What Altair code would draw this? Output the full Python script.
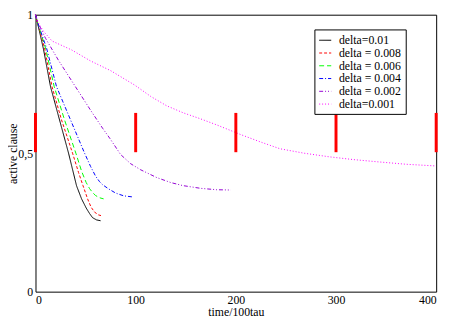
import altair as alt
import pandas as pd

series_names = ["delta=0.01", "delta = 0.008", "delta = 0.006",
                "delta = 0.004", "delta = 0.002", "delta=0.001"]
series_colors = ["#000000", "#ff0000", "#00ff00", "#0000ff", "#9400d3", "#ff00ff"]
series_dash = [[1, 0], [3, 2], [5, 3], [4, 2, 1, 2], [4, 2, 1, 2, 1, 2], [1, 2]]

x_d010 = [0, 3, 8, 15, 24, 33, 41, 46, 50.6, 54, 57, 61, 65]
y_d010 = [1, 0.955, 0.875, 0.74, 0.62, 0.5, 0.382, 0.335, 0.302, 0.282, 0.267, 0.259, 0.256]

x_d008 = [0, 3, 9, 16.5, 26, 37, 43, 47.4, 52, 55.5, 59, 63, 67]
y_d008 = [1, 0.958, 0.88, 0.74, 0.62, 0.5, 0.43, 0.383, 0.335, 0.305, 0.287, 0.277, 0.273]

x_d006 = [0, 3, 10, 18.7, 29, 40.3, 46, 50.6, 54, 57, 60, 64, 68]
y_d006 = [1, 0.96, 0.88, 0.74, 0.62, 0.5, 0.435, 0.394, 0.372, 0.358, 0.347, 0.339, 0.335]

x_d004 = [0, 3, 11, 21, 35, 49, 55, 60, 64, 67, 73, 80, 88, 97]
y_d004 = [1, 0.962, 0.88, 0.74, 0.62, 0.5, 0.452, 0.417, 0.397, 0.386, 0.371, 0.356, 0.346, 0.342]

x_d002 = [0, 2, 10, 23, 39, 55, 67, 74.5, 85, 95, 105, 121, 135, 147, 165, 181, 195]
y_d002 = [1, 0.975, 0.915, 0.835, 0.745, 0.655, 0.59, 0.552, 0.495, 0.462, 0.44, 0.412,
          0.394, 0.383, 0.373, 0.368, 0.367]

x_d001 = [0, 2, 8, 16.5, 36, 55, 75, 99, 115, 131, 148, 164, 181, 205, 225, 244, 268,
          293, 317, 341, 370, 399]
y_d001 = [1, 0.975, 0.94, 0.905, 0.873, 0.833, 0.798, 0.746, 0.705, 0.671, 0.645, 0.625,
          0.602, 0.567, 0.54, 0.516, 0.5, 0.487, 0.477, 0.469, 0.46, 0.454]

x_major = [0, 100, 200, 300, 400]
x_minor = [50, 150, 250, 350]
y_major = [0, 0.5, 1]
y_minor = [0.25, 0.75]

W, H = 408, 282
FONT = "Liberation Serif"

all_x = [x_d010, x_d008, x_d006, x_d004, x_d002, x_d001]
all_y = [y_d010, y_d008, y_d006, y_d004, y_d002, y_d001]
rows = []
for name, xs, ys in zip(series_names, all_x, all_y):
    for i, (a, b) in enumerate(zip(xs, ys)):
        rows.append({"series": name, "t": a, "v": b, "i": i})
df = pd.DataFrame(rows)

xscale = alt.Scale(domain=[0, 400], nice=False, zero=False)
yscale = alt.Scale(domain=[0, 1], nice=False, zero=False)

xaxis = alt.Axis(values=x_major, title="time/100tau", labelPadding=3, titlePadding=1)
yaxis = alt.Axis(values=y_major, title="active clause",
                 labelExpr="replace(format(datum.value, ''), '.', ',')",
                 labelPadding=3, titleX=-28, titleY=H / 2, titleBaseline="top")

legend = alt.Legend(title=None)

lines = alt.Chart(df).mark_line(strokeWidth=1).encode(
    x=alt.X("t:Q", scale=xscale, axis=xaxis),
    y=alt.Y("v:Q", scale=yscale, axis=yaxis),
    color=alt.Color("series:N",
                    scale=alt.Scale(domain=series_names, range=series_colors),
                    legend=legend),
    strokeDash=alt.StrokeDash("series:N",
                              scale=alt.Scale(domain=series_names, range=series_dash),
                              legend=legend),
    order="i:Q",
)

test_rules = alt.Chart(pd.DataFrame({"xt": x_major})).mark_rule(
    color="red", strokeWidth=3).encode(
    x=alt.X("xt:Q", scale=xscale),
    y=alt.value(100), y2=alt.value(140))

chart = alt.layer(lines, test_rules).properties(
    width=W, height=H,
    autosize=alt.AutoSizeParams(type="none"),
    padding={"left": 28, "top": 4, "right": 10, "bottom": 24},
).configure_view(
    stroke="#000000", strokeWidth=1
).configure_axis(
    labelFont=FONT, labelFontSize=12, labelColor="#000000",
    titleFont=FONT, titleFontSize=12, titleFontWeight="normal", titleColor="#000000",
    ticks=False, domain=False, grid=False,
).configure_legend(
    orient="none", legendX=284, legendY=15,
    strokeColor="#000000", fillColor="#ffffff", padding=4,
    symbolType="stroke", symbolSize=150, symbolStrokeWidth=1,
    labelFont=FONT, labelFontSize=12, labelColor="#000000", labelOffset=7,
    rowPadding=0,
)

chart.save("out.html", embed_options={"renderer": "svg", "actions": False})
